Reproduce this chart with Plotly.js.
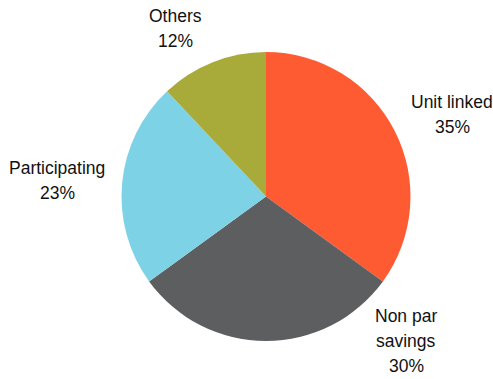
<!DOCTYPE html>
<html>
<head>
<meta charset="utf-8">
<script src="https://cdn.plot.ly/plotly-3.0.1.min.js"></script>
<style>html,body{margin:0;padding:0;background:#fff;}#chart{width:493px;height:379px;}</style>
</head>
<body>
<div id="chart"></div>
<script>
const categories = ['Unit linked', 'Non par savings', 'Participating', 'Others'];
const labelLines = [['Unit linked'], ['Non par', 'savings'], ['Participating'], ['Others']];
const shares = [35, 30, 23, 12];
const colors = ['#FF5B33', '#5D5E60', '#7ED2E6', '#A8AA3A'];

const labelPos = [[0.917, 0.697], [0.824, 0.100], [0.116, 0.525], [0.355, 0.926]];
const fontFam = '"Liberation Sans", Arial, sans-serif';
const H = 379, lineGap = 25;

const annotations = [];
categories.forEach((c, i) => {
  const lines = labelLines[i].concat([shares[i] + '%']);
  const n = lines.length;
  lines.forEach((t, k) => {
    annotations.push({
      xref: 'paper', yref: 'paper',
      x: labelPos[i][0], y: labelPos[i][1] + ((n - 1) / 2 - k) * lineGap / H,
      xanchor: 'center', yanchor: 'middle',
      text: t, showarrow: false,
      font: {family: fontFam, size: 17.5, color: '#111'}
    });
  });
});

Plotly.newPlot('chart', [{
  type: 'pie',
  labels: categories,
  values: shares,
  sort: false,
  direction: 'clockwise',
  rotation: 0,
  textinfo: 'none',
  hoverinfo: 'label+percent',
  marker: {colors: colors, line: {width: 0}},
  domain: {x: [0.2454, 0.8337], y: [0.1003, 0.8628]}
}], {
  width: 493, height: 379,
  margin: {l: 0, r: 0, t: 0, b: 0},
  showlegend: false,
  paper_bgcolor: '#fff',
  annotations: annotations
}, {displayModeBar: false, staticPlot: true});
</script>
</body>
</html>
